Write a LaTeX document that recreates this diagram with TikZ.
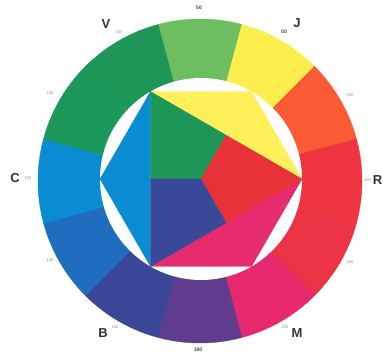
\documentclass[tikz,border=0pt]{standalone}
\usetikzlibrary{calc}
\usepackage{fontspec}
\setmainfont{Liberation Sans}
\definecolor{cLG}{RGB}{108,190,96}
\definecolor{cY}{RGB}{252,238,76}
\definecolor{cO}{RGB}{250,90,52}
\definecolor{cR}{RGB}{238,52,62}
\definecolor{cRP}{RGB}{237,52,70}
\definecolor{cMG}{RGB}{232,40,110}
\definecolor{cPU}{RGB}{96,60,142}
\definecolor{cDB}{RGB}{58,70,150}
\definecolor{cBL}{RGB}{32,108,190}
\definecolor{cCY}{RGB}{10,140,212}
\definecolor{cG}{RGB}{28,152,90}
\definecolor{cGi}{RGB}{30,150,88}
\definecolor{iY}{RGB}{253,240,90}
\definecolor{iR}{RGB}{232,50,56}
\definecolor{iB}{RGB}{58,72,152}
\definecolor{iC}{RGB}{10,140,210}
\definecolor{iM}{RGB}{230,44,110}
\definecolor{iG}{RGB}{30,150,88}
\begin{document}
\begin{tikzpicture}[x=1pt,y=1pt,
  big/.style={font=\bfseries\fontsize{13}{13}\selectfont, text=black!80, inner sep=0pt},
  small/.style={font=\fontsize{4}{4}\selectfont, text=black!45, inner sep=0pt}]
\useasboundingbox (0,0) rectangle (383,354);
\coordinate (c) at (200,173);
\coordinate (ci) at (201,175);
% outer ring sectors
\foreach \a/\col in {90/cLG,60/cY,30/cO,0/cR,-30/cRP,-60/cMG,-90/cPU,-120/cDB,-150/cBL,180/cCY,150/cG,120/cGi}{
  \fill[\col, draw=\col, line width=0.4pt] (c) -- ([shift={(c)}]{\a-15}:162) arc[start angle={\a-15}, end angle={\a+15}, radius=162] -- cycle;
}
% inner white disc
\fill[white] (ci) circle[radius=101];
% hexagon vertices
\foreach \k in {0,60,120,180,240,300}{ \coordinate (h\k) at ([shift={(ci)}]\k:101); }
\coordinate (m1) at ($(h120)!0.5!(h0)$);
\coordinate (m2) at ($(h0)!0.5!(h240)$);
\coordinate (m3) at ($(h120)!0.5!(h240)$);
% big triangles
\fill[iY, draw=iY, line width=0.3pt] (h120) -- (h60) -- (h0) -- cycle;
\fill[iC, draw=iC, line width=0.3pt] (h120) -- (h180) -- (h240) -- cycle;
\fill[iM, draw=iM, line width=0.3pt] (h240) -- (h300) -- (h0) -- cycle;
% central triangle pieces
\fill[iG, draw=iG, line width=0.3pt] (h120) -- (m1) -- (ci) -- (m3) -- cycle;
\fill[iR, draw=iR, line width=0.3pt] (m1) -- (h0) -- (m2) -- (ci) -- cycle;
\fill[iB, draw=iB, line width=0.3pt] (ci) -- (m2) -- (h240) -- (m3) -- cycle;
% labels
\node[big] (lV) at (106,330) {V};
\node[small] (sV) at (119,322) {100};
\node[small, font=\bfseries\fontsize{5}{5}\selectfont, text=black!75] (sT) at (199,346) {50};
\node[big] (lJ) at (297,331) {J};
\node[small, font=\bfseries\fontsize{5}{5}\selectfont, text=black!75] (sJ) at (284,322) {50};
\node[small] (s30) at (350,259) {100};
\node[big, anchor=east] (lR) at (382.5,174) {R};
\node[small, anchor=east] (sR) at (371,174) {100};
\node[small] (sm30) at (350,92) {100};
\node[big] (lM) at (297,21) {M};
\node[small] (sM) at (285,27) {100};
\node[small, font=\bfseries\fontsize{5}{5}\selectfont, text=black!75] (sBot) at (198,4) {100};
\node[big] (lB) at (103,21) {B};
\node[small] (sB) at (115,27) {100};
\node[small] (sm150) at (50,94) {100};
\node[big] (lC) at (15,176) {C};
\node[small] (sC) at (28,176) {100};
\node[small] (s150) at (50,261) {100};
\end{tikzpicture}
\end{document}
